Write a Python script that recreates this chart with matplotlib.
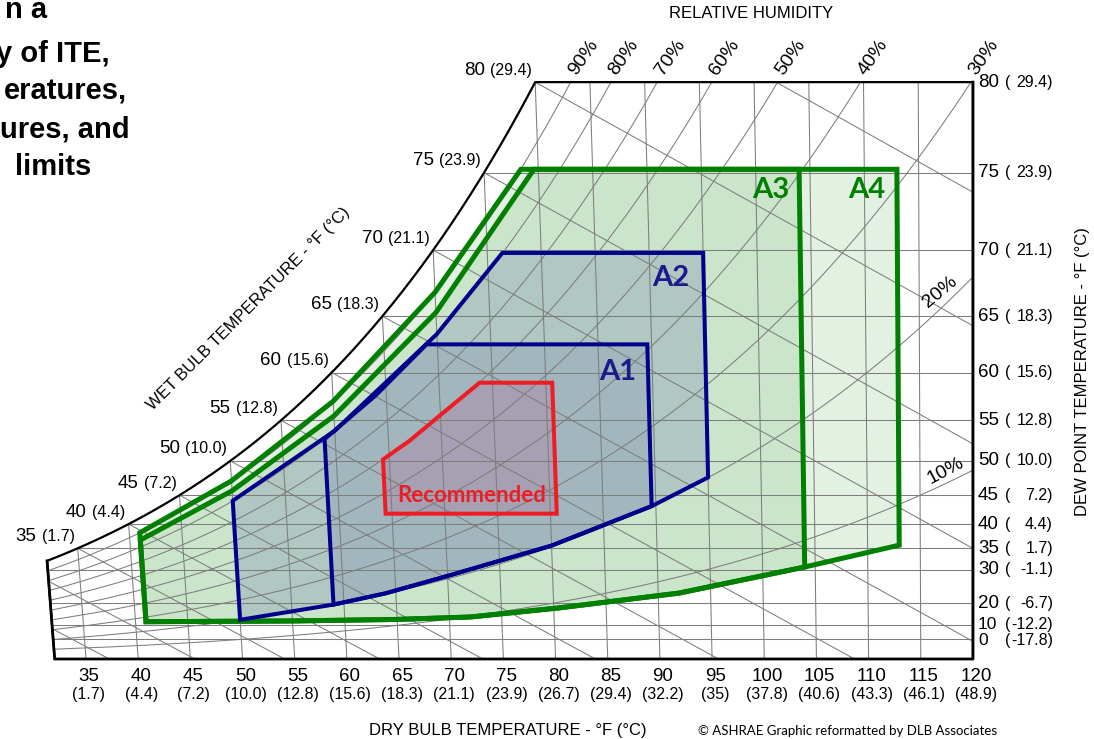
import numpy as np
import matplotlib
matplotlib.use("Agg")
import matplotlib.pyplot as plt
from matplotlib.patches import Polygon, PathPatch
from matplotlib.path import Path
from matplotlib.offsetbox import TextArea, HPacker, AnnotationBbox

# ---------------------------------------------------------------- data
DB_TICKS = [35, 40, 45, 50, 55, 60, 65, 70, 75, 80, 85, 90, 95, 100, 105, 110, 115, 120]
DB_TICKS_C = ["(1.7)", "(4.4)", "(7.2)", "(10.0)", "(12.8)", "(15.6)", "(18.3)", "(21.1)",
              "(23.9)", "(26.7)", "(29.4)", "(32.2)", "(35)", "(37.8)", "(40.6)", "(43.3)",
              "(46.1)", "(48.9)"]

DP_TICKS = [80, 75, 70, 65, 60, 55, 50, 45, 40, 35, 30, 20, 10, 0]
DP_TICKS_C = ["29.4", "23.9", "21.1", "18.3", "15.6", "12.8", "10.0", "7.2", "4.4", "1.7",
              "-1.1", "-6.7", "-12.2", "-17.8"]
DP_GRID = [0, 10, 20, 30, 35, 40, 45, 50, 55, 60, 65, 70, 75]

WB_TICKS = [35, 40, 45, 50, 55, 60, 65, 70, 75, 80]
WB_TICKS_C = ["(1.7)", "(4.4)", "(7.2)", "(10.0)", "(12.8)", "(15.6)", "(18.3)", "(21.1)",
              "(23.9)", "(29.4)"]
WB_GRID = [25, 30, 35, 40, 45, 50, 55, 60, 65, 70, 75, 80, 85]

RH_GRID = [0.1, 0.2, 0.3, 0.4, 0.5, 0.6, 0.7, 0.8, 0.9]
RH_TOP_LABELS = [0.9, 0.8, 0.7, 0.6, 0.5, 0.4, 0.3]
RH_SIDE_LABELS = [0.2, 0.1]

# envelope outlines: dry bulb (F) and dew point (F) of each corner
REC_DB = [64.4, 80.6, 80.6, 73.8, 70.0, 67.0, 64.4]
REC_DP = [41.9, 41.9, 59.0, 59.0, 55.6, 52.6, 50.2]

A1_DB = [59.0, 64.0, 70.0, 80.0, 89.6, 89.6, 69.0, 64.0, 59.0]
A1_DP = [19.5, 23.4, 28.4, 35.6, 43.2, 62.6, 62.6, 57.7, 52.8]

A2_DB = [50.0, 59.0, 64.0, 70.0, 80.0, 89.6, 95.0, 95.0, 76.4, 70.0, 60.0, 50.0]
A2_DP = [12.8, 19.5, 23.4, 28.4, 35.6, 43.2, 47.7, 69.8, 69.8, 63.5, 53.8, 44.1]

A3_DB = [41.0, 55.0, 65.0, 72.0, 80.5, 92.0, 104.0, 104.0, 79.6, 70.0, 60.0, 50.0, 41.0]
A3_DP = [11.8, 12.2, 13.0, 14.2, 18.2, 23.5, 30.6, 75.2, 75.2, 65.3, 55.5, 45.7, 36.8]

A4_DB = [41.0, 55.0, 65.0, 72.0, 80.5, 92.0, 104.0, 113.0, 113.0, 78.4, 70.0, 60.0, 50.0,
         41.0]
A4_DP = [11.8, 12.2, 13.0, 14.2, 18.2, 23.5, 30.6, 35.7, 75.2, 75.2, 66.9, 57.1, 47.2,
         38.3]

TITLE_LINES = ["n a", "y of ITE,", "eratures,", "ures, and", "limits"]

# ---------------------------------------------------------------- psychrometrics
P_ATM = 101.325
SKEW = 2.2  # dry-bulb lines lean with humidity; 120 F is the upright one


def pws(tf):
    t = (np.asarray(tf, dtype=float) - 32.0) / 1.8
    water = 0.61094 * np.exp(17.625 * t / (t + 243.04))
    ice = 0.61115 * np.exp(22.452 * t / (272.55 + t))
    return np.where(t >= 0, water, ice)


def w_from_pw(pw):
    return 0.622 * pw / (P_ATM - pw)


def w_dp(dp):
    return w_from_pw(pws(dp))


def w_rh(t, rh):
    return w_from_pw(rh * pws(t))


def w_wb(t, twb):
    return ((1093 - 0.556 * twb) * w_dp(twb) - 0.24 * (t - twb)) / (1093 + 0.444 * t - twb)


def sx(t, w):
    t = np.asarray(t, dtype=float)
    return t + SKEW * (t - 120.0) * np.asarray(w, dtype=float)


# ---------------------------------------------------------------- figure
plt.rcParams["font.family"] = ["Liberation Sans", "DejaVu Sans"]
fig = plt.figure(figsize=(10.94, 7.39), dpi=100)
ax = fig.add_axes([0, 0, 1, 1])
ax.set_xlim(26.7585, 131.600)
ax.set_ylim(-0.003077, 0.025346)
ax.set_axis_off()

PT = 0.72  # points per pixel at 100 dpi

W_TOP = float(w_dp(80))
t_sat = np.linspace(32, 80, 300)
w_sat = w_dp(t_sat)

frame_x = np.concatenate([[sx(32, 0)], sx(t_sat, w_sat), [sx(120, W_TOP), 120.0]])
frame_y = np.concatenate([[0.0], w_sat, [W_TOP, 0.0]])
clip = PathPatch(Path(np.column_stack([frame_x, frame_y]), closed=False),
                 transform=ax.transData, facecolor="none", edgecolor="none")
ax.add_patch(clip)

# ---------------------------------------------------------------- envelope fills
GREEN = "#008000"
NAVY = "#00008c"
RED = "#ee1c24"


def env_xy(db, dp):
    db = np.asarray(db, dtype=float)
    w = w_dp(np.asarray(dp, dtype=float))
    return np.column_stack([sx(db, w), w])


envelopes = [
    (A4_DB, A4_DP, GREEN, 0.11, GREEN, 3.6),
    (A3_DB, A3_DP, GREEN, 0.10, GREEN, 3.6),
    (A2_DB, A2_DP, NAVY, 0.13, NAVY, 2.9),
    (A1_DB, A1_DP, NAVY, 0.08, NAVY, 2.9),
    (REC_DB, REC_DP, "#c80064", 0.12, RED, 2.9),
]
for db, dp, fc, a, ec, lw in envelopes:
    ax.add_patch(Polygon(env_xy(db, dp), closed=True, facecolor=fc, alpha=a,
                         edgecolor="none", zorder=1))

# ---------------------------------------------------------------- grid
GRID = dict(color="#7d7d7d", lw=0.75, zorder=2, solid_capstyle="butt")
wv = np.linspace(0, W_TOP, 50)
for t in DB_TICKS[:-1]:
    ln, = ax.plot(sx(t, wv), wv, **GRID)
    ln.set_clip_path(clip)

for dp in DP_GRID:
    w = float(w_dp(dp))
    ln, = ax.plot([20, 125], [w, w], **GRID)
    ln.set_clip_path(clip)

tt = np.linspace(25, 125, 400)
for rh in RH_GRID:
    w = w_rh(tt, rh)
    ln, = ax.plot(sx(tt, w), w, **GRID)
    ln.set_clip_path(clip)

for twb in WB_GRID:
    t = np.linspace(twb, 125, 200)
    w = w_wb(t, twb)
    ln, = ax.plot(sx(t, w), w, **GRID)
    ln.set_clip_path(clip)

# ---------------------------------------------------------------- frame
ax.plot(frame_x, frame_y, color="black", lw=1.6, zorder=4)
ax.plot([120, 120, sx(32, 0), sx(32, w_dp(32))], [W_TOP, 0, 0, w_dp(32)],
        color="black", lw=2.0, zorder=4)

# ---------------------------------------------------------------- envelope outlines
for db, dp, fc, a, ec, lw in envelopes:
    ax.add_patch(Polygon(env_xy(db, dp), closed=True, facecolor="none",
                         edgecolor=ec, lw=lw, joinstyle="miter", zorder=3))


def fig_text(px, py, s, **kw):
    fig.text(px / 1094, 1 - py / 739, s, **kw)


CAL = ["Lato", "DejaVu Sans"]
fig_text(472, 496, "Recommended", color=RED, family=CAL, fontweight="bold",
         fontsize=16, ha="center", va="center", zorder=5)

label_specs = [("A1", 618, 372, "#1a1a8c"), ("A2", 671, 278, "#1a1a8c"),
               ("A3", 771, 190, GREEN), ("A4", 867, 190, GREEN)]
for txt, px, py, col in label_specs:
    fig_text(px, py, txt, color=col, family=CAL, fontweight="bold", fontsize=21,
             ha="center", va="center", zorder=5)

# ---------------------------------------------------------------- dry bulb axis labels
for t, c in zip(DB_TICKS, DB_TICKS_C):
    ax.annotate(str(t), xy=(t, 0), xytext=(3, -18), textcoords="offset pixels",
                ha="center", va="center", fontsize=13.5)
    ax.annotate(c, xy=(t, 0), xytext=(3, -36), textcoords="offset pixels",
                ha="center", va="center", fontsize=11.5)

# ---------------------------------------------------------------- dew point axis labels
for dp, c in zip(DP_TICKS, DP_TICKS_C):
    w = float(w_dp(dp))
    dy = -1.5 if dp == 0 else 0
    size = 12.5 if dp in (0, 10) else 13.5
    ax.annotate(str(dp), xy=(120, w), xytext=(5, dy), textcoords="offset pixels",
                ha="left", va="center", fontsize=size)
    ax.annotate("(", xy=(120, w), xytext=(32, dy), textcoords="offset pixels",
                ha="left", va="center", fontsize=11.5)
    ax.annotate(c + ")", xy=(120, w), xytext=(80, dy), textcoords="offset pixels",
                ha="right", va="center", fontsize=11.5)

# ---------------------------------------------------------------- wet bulb labels
for twb, c in zip(WB_TICKS, WB_TICKS_C):
    w = float(w_dp(twb))
    box = HPacker(children=[TextArea(str(twb), textprops=dict(fontsize=13.5)),
                            TextArea(c, textprops=dict(fontsize=11.5))],
                  align="baseline", pad=0, sep=4)
    ab = AnnotationBbox(box, (float(sx(twb, w)), w), xybox=(-3 * PT, 12 * PT),
                        xycoords="data", boxcoords="offset points",
                        box_alignment=(1, 0.5), frameon=False, pad=0)
    ax.add_artist(ab)

# ---------------------------------------------------------------- relative humidity labels
tdense = np.linspace(60, 125, 2000)
for rh in RH_TOP_LABELS:
    wr = w_rh(tdense, rh)
    t_cross = float(np.interp(W_TOP, wr, tdense))
    x_cross = min(float(sx(t_cross, W_TOP)), 120.0)
    ax.annotate(f"{int(round(rh * 100))}%", xy=(x_cross, W_TOP), xytext=(13, 25),
                textcoords="offset pixels", ha="center", va="center", rotation=55,
                fontsize=14)

for rh, off, rot in zip(RH_SIDE_LABELS, [(-33, -15), (-27, -1)], [40, 28]):
    w = float(w_rh(120, rh))
    ax.annotate(f"{int(round(rh * 100))}%", xy=(120, w), xytext=off,
                textcoords="offset pixels", ha="center", va="center", rotation=rot,
                fontsize=14)

# ---------------------------------------------------------------- axis titles
fig_text(751, 14, "RELATIVE HUMIDITY", ha="center", va="center", fontsize=12)
fig_text(508, 731, "DRY BULB TEMPERATURE - °F (°C)", ha="center", va="center", fontsize=12)
fig_text(1083, 372, "DEW POINT TEMPERATURE - °F (°C)", ha="center", va="center",
         fontsize=12, rotation=90)
fig_text(249, 309, "WET BULB TEMPERATURE - °F (°C)", ha="center", va="center",
         fontsize=12, rotation=45)
fig_text(848, 731, "© ASHRAE Graphic reformatted by DLB Associates", ha="center",
         va="center", fontsize=9.5, family=CAL)

# heading, cut by the left edge of the canvas
for s, px, py in zip(TITLE_LINES, [47, 110, 127, 130, 91], [18, 62, 100, 137, 175]):
    fig_text(px, py, s, ha="right", va="baseline", fontsize=21, fontweight="bold")

fig.savefig("out.png", dpi=100)
